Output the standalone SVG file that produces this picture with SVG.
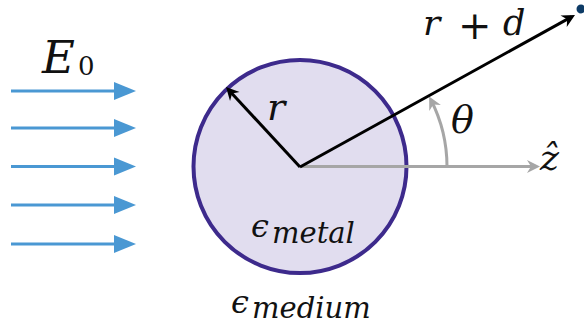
<svg xmlns="http://www.w3.org/2000/svg" width="584" height="329" viewBox="0 0 584 329">
<style>
.math{font-family:'DejaVu Serif',serif;font-style:italic;fill:#111}
.up{font-family:'DejaVu Serif',serif;font-style:normal;fill:#111}
.blue{stroke:#4a98d3;stroke-width:3;fill:none}
.blk{stroke:#000;stroke-width:3;fill:none}
.gry{stroke:#a6a6a6;stroke-width:3;fill:none}
</style>
<defs>
<marker id="mb" markerUnits="userSpaceOnUse" markerWidth="30" markerHeight="30" refX="0" refY="0" orient="auto" overflow="visible">
<path d="M-11,-9 L11,0 L-11,9 Z" fill="#4a98d3"/>
</marker>
<marker id="mk" markerUnits="userSpaceOnUse" markerWidth="20" markerHeight="20" refX="0" refY="0" orient="auto" overflow="visible">
<path d="M4,0 L-9,-6.5 L-5,0 L-9,6.5 Z" fill="#000"/>
</marker>
<marker id="mg" markerUnits="userSpaceOnUse" markerWidth="20" markerHeight="20" refX="0" refY="0" orient="auto" overflow="visible">
<path d="M4,0 L-9,-6.5 L-5,0 L-9,6.5 Z" fill="#a6a6a6"/>
</marker>
</defs>
<g id="sphere">
<circle cx="300" cy="166.5" r="106.5" fill="#e1ddef" stroke="#3d2a8c" stroke-width="4"/>
</g>
<g id="field">
<line class="blue" x1="11" y1="91" x2="125" y2="91" marker-end="url(#mb)"/>
<line class="blue" x1="11" y1="128" x2="125" y2="128" marker-end="url(#mb)"/>
<line class="blue" x1="11" y1="166.5" x2="125" y2="166.5" marker-end="url(#mb)"/>
<line class="blue" x1="11" y1="205" x2="125" y2="205" marker-end="url(#mb)"/>
<line class="blue" x1="11" y1="244" x2="125" y2="244" marker-end="url(#mb)"/>
</g>
<g id="connectors">
<line class="gry" x1="300" y1="166.5" x2="536" y2="166.5" marker-end="url(#mg)"/>
<path class="gry" d="M447,166.5 A147,147 0 0 0 431,100" marker-end="url(#mg)"/>
<line class="blk" x1="300" y1="167" x2="228.7" y2="89.9" marker-end="url(#mk)"/>
<line class="blk" x1="300" y1="167" x2="571.5" y2="16.9" marker-end="url(#mk)"/>
</g>
<g id="point">
<circle cx="581" cy="9" r="4.5" fill="#0d3b66"/>
</g>
<g id="labels">
<text class="math" x="42" y="73" font-size="45">E</text>
<text class="up" x="78" y="75" font-size="26">0</text>
<text class="math" x="267" y="120" font-size="38">r</text>
<text class="math" x="423" y="35" font-size="36">r</text>
<text class="up" x="458" y="38.5" font-size="40">+</text>
<text class="math" x="503" y="35" font-size="35">d</text>
<text class="math" x="451" y="133" font-size="38">θ</text>
<text class="math" x="540" y="170" font-size="36">ẑ</text>
<text class="math" x="251" y="237" font-size="32">ϵ</text>
<text class="math" x="272" y="243" font-size="29">metal</text>
<text class="math" x="231" y="313" font-size="32">ϵ</text>
<text class="math" x="252" y="318" font-size="29">medium</text>
</g>
</svg>
